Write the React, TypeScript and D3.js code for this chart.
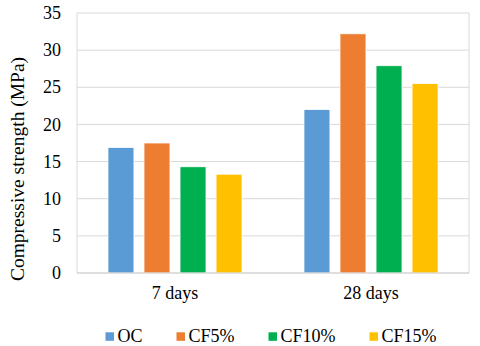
import { useMemo } from "react";
import * as d3 from "d3";

const categories = ["7 days", "28 days"];
const series = ["OC", "CF5%", "CF10%", "CF15%"];
const colors = ["#5B9BD5", "#ED7D31", "#00B050", "#FFC000"];
// values[category][series]
const values7 = [16.9, 17.5, 14.3, 13.3];
const values28 = [22.0, 32.2, 27.9, 25.5];
const yTicks = [0, 5, 10, 15, 20, 25, 30, 35];

const width = 480;
const height = 346;
const marginTop = 13;
const marginBottom = 73;
const marginLeft = 77;
const marginRight = 11;
const font = "'Liberation Serif', 'Tinos', 'Times New Roman', 'DejaVu Serif', serif";

const measure = (text: string, size: number) => {
  const ctx = document.createElement("canvas").getContext("2d");
  if (!ctx) return text.length * size * 0.5;
  ctx.font = `${size}px ${font}`;
  return ctx.measureText(text).width;
};

const App = () => {
  const rows = [values7, values28];
  const chartBottomY = height - marginBottom;

  const x0 = d3
    .scaleBand()
    .domain(categories)
    .range([marginLeft, width - marginRight])
    .padding(0);

  const x1 = d3
    .scaleBand()
    .domain(series)
    .range([0, x0.bandwidth()])
    .paddingInner(0.28)
    .paddingOuter(0.86);

  const yScale = d3
    .scaleLinear()
    .domain([0, 35])
    .range([chartBottomY, marginTop]);

  // legend layout: square + gap + text, items separated by fixed spacing
  const legend = useMemo(() => {
    const sq = 8.5;
    const textGap = 3.5;
    const itemGap = 34;
    const widths = series.map((s) => sq + textGap + measure(s, 18));
    const total = d3.sum(widths) + itemGap * (series.length - 1);
    let x = (marginLeft + width - marginRight) / 2 - total / 2 - 2;
    return series.map((s, i) => {
      const item = { s, x, sq, textX: x + sq + textGap };
      x += widths[i] + itemGap;
      return item;
    });
  }, []);

  return (
    <svg
      width={width}
      height={height}
      viewBox={`0 0 ${width} ${height}`}
      style={{
        position: "absolute",
        left: 0,
        top: 0,
        background: "#fff",
        fontFamily: font,
      }}
    >
      {/* gridlines */}
      <g className="grid">
        {yTicks.map((t) => (
          <line
            key={t}
            x1={marginLeft}
            x2={width - marginRight}
            y1={yScale(t)}
            y2={yScale(t)}
            stroke="#d9d9d9"
            strokeWidth={1}
          />
        ))}
        <line
          x1={marginLeft}
          x2={marginLeft}
          y1={marginTop}
          y2={chartBottomY}
          stroke="#d9d9d9"
        />
        <line
          x1={width - marginRight}
          x2={width - marginRight}
          y1={marginTop}
          y2={chartBottomY}
          stroke="#d9d9d9"
        />
      </g>
      <g className="bars">
        {categories.map((c, ci) =>
          series.map((s, si) => (
            <rect
              key={c + s}
              x={(x0(c) ?? 0) + (x1(s) ?? 0)}
              y={yScale(rows[ci][si])}
              width={x1.bandwidth()}
              height={chartBottomY - yScale(rows[ci][si])}
              fill={colors[si]}
              stroke="#fff"
              strokeWidth={0.75}
            />
          ))
        )}
      </g>
      {/* x axis baseline */}
      <line
        x1={marginLeft}
        x2={width - marginRight}
        y1={chartBottomY}
        y2={chartBottomY}
        stroke="#d0d0d0"
      />
      <g className="y-labels" fontSize={18} fill="#000">
        {yTicks.map((t) => (
          <text key={t} x={61} y={yScale(t)} dy="0.34em" textAnchor="end">
            {t}
          </text>
        ))}
      </g>
      <g className="x-labels" fontSize={18} fill="#000">
        {categories.map((c) => (
          <text
            key={c}
            x={(x0(c) ?? 0) + x0.bandwidth() / 2}
            y={299}
            textAnchor="middle"
          >
            {c}
          </text>
        ))}
      </g>
      <text
        transform={`translate(24,${169}) rotate(-90)`}
        textAnchor="middle"
        fontSize={19.5}
      >
        Compressive strength (MPa)
      </text>
      <g className="legend" fontSize={18}>
        {legend.map((d, i) => (
          <g key={d.s}>
            <rect x={d.x} y={332.3} width={d.sq} height={d.sq} fill={colors[i]} />
            <text x={d.textX} y={342}>
              {d.s}
            </text>
          </g>
        ))}
      </g>
    </svg>
  );
};

export default App;
